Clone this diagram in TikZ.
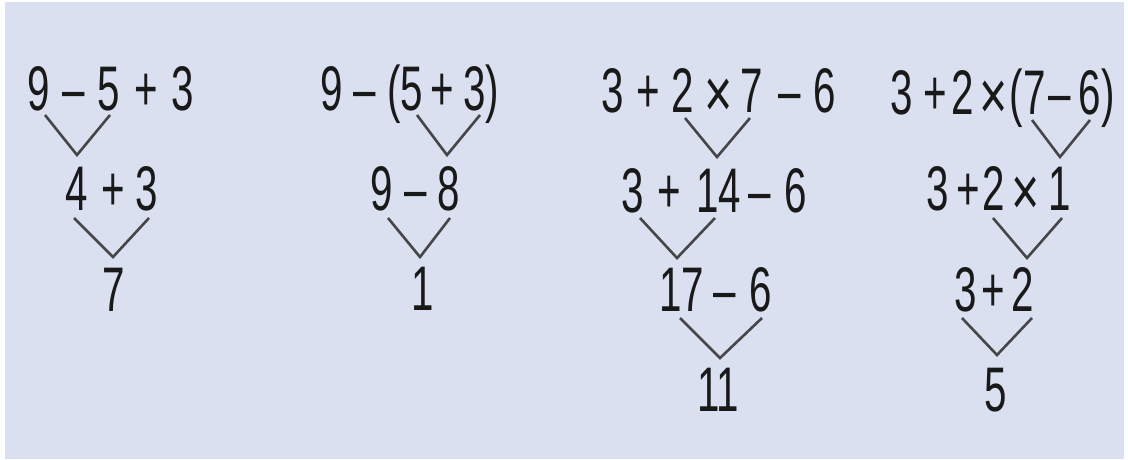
\documentclass[tikz,border=0pt]{standalone}
\usepackage{fontspec}
\usepackage{graphicx}
\setmainfont[FakeStretch=0.64]{Liberation Sans}
\definecolor{bgblue}{RGB}{218,224,240}
\definecolor{ink}{RGB}{25,25,25}
\definecolor{vline}{RGB}{70,70,72}
\newcommand{\tms}{\raisebox{-5pt}{\scalebox{1.2}[1.1]{×}}}
\begin{document}
\begin{tikzpicture}[x=1pt,y=-1pt,
  tok/.style={anchor=base,inner sep=0pt,text=ink,font=\fontsize{63}{70}\selectfont},
  vee/.style={draw=vline,line width=2.6pt,line join=miter}]
\fill[white] (0,0) rectangle (1128,459);
\fill[bgblue] (5,2) rectangle (1124,459);
\useasboundingbox (0,0) rectangle (1128,459);
% ---------- Panel 1 ----------
\node[tok] (a11) at (38.5,110) {9};
\node[tok] (a12) at (74,110) {–};
\node[tok] (a13) at (109,110) {5};
\node[tok] (a14) at (146.5,110) {+};
\node[tok] (a15) at (182.5,110) {3};
\node[tok] (a21) at (76.5,210) {4};
\node[tok] (a22) at (113,210) {+};
\node[tok] (a23) at (147,210) {3};
\node[tok] (a31) at (114,311) {7};
\coordinate (a1l) at (45,115); \coordinate (a1v) at (77,155); \coordinate (a1r) at (110,115);
\coordinate (a2l) at (74,218); \coordinate (a2v) at (113,257); \coordinate (a2r) at (149,218);
\draw[vee] (a1l) -- (a1v) -- (a1r);
\draw[vee] (a2l) -- (a2v) -- (a2r);
% ---------- Panel 2 ----------
\node[tok] (b11) at (332,110) {9};
\node[tok] (b12) at (365,110) {–};
\node[tok] (b13) at (405,110) {(5};
\node[tok] (b14) at (442.5,110) {+};
\node[tok] (b15) at (481,110) {3)};
\node[tok] (b21) at (382,210) {9};
\node[tok] (b22) at (416,210) {–};
\node[tok] (b23) at (449,210) {8};
\node[tok] (b31) at (422.5,310) {1};
\coordinate (b1l) at (417,115); \coordinate (b1v) at (447,155); \coordinate (b1r) at (480,115);
\coordinate (b2l) at (388,218); \coordinate (b2v) at (420,257); \coordinate (b2r) at (450,218);
\draw[vee] (b1l) -- (b1v) -- (b1r);
\draw[vee] (b2l) -- (b2v) -- (b2r);
% ---------- Panel 3 ----------
\node[tok] (c11) at (612.5,112) {3};
\node[tok] (c12) at (648.5,112) {+};
\node[tok] (c13) at (682.5,112) {2};
\node[tok] (c14) at (718.5,112) {\tms};
\node[tok] (c15) at (752,112) {7};
\node[tok] (c16) at (790,112) {–};
\node[tok] (c17) at (825,112) {6};
\node[tok] (c21) at (632.5,212) {3};
\node[tok] (c22) at (669.5,212) {+};
\node[tok] (c23) at (719,212) {14};
\node[tok] (c24) at (760,212) {–};
\node[tok] (c25) at (796,212) {6};
\node[tok] (c31) at (682,311) {17};
\node[tok] (c32) at (725,311) {–};
\node[tok] (c33) at (761,311) {6};
\node[tok] (c41) at (718,411) {11};
\coordinate (c1l) at (685,118); \coordinate (c1v) at (717,157); \coordinate (c1r) at (750,118);
\coordinate (c2l) at (640,218); \coordinate (c2v) at (677,258); \coordinate (c2r) at (715,218);
\coordinate (c3l) at (680,318); \coordinate (c3v) at (720,358); \coordinate (c3r) at (762,318);
\draw[vee] (c1l) -- (c1v) -- (c1r);
\draw[vee] (c2l) -- (c2v) -- (c2r);
\draw[vee] (c3l) -- (c3v) -- (c3r);
% ---------- Panel 4 ----------
\node[tok] (d11) at (902,114) {3};
\node[tok] (d12) at (935,114) {+};
\node[tok] (d13) at (962.5,114) {2};
\node[tok] (d14) at (994,114) {\tms};
\node[tok] (d15) at (1027.5,114) {(7};
\node[tok] (d16) at (1060,114) {–};
\node[tok] (d17) at (1096.5,114) {6)};
\node[tok] (d21) at (938,210) {3};
\node[tok] (d22) at (968.5,210) {+};
\node[tok] (d23) at (994,210) {2};
\node[tok] (d24) at (1026,210) {\tms};
\node[tok] (d25) at (1060,210) {1};
\node[tok] (d31) at (966,311) {3};
\node[tok] (d32) at (993.5,311) {+};
\node[tok] (d33) at (1023,311) {2};
\node[tok] (d41) at (996,411) {5};
\coordinate (d1l) at (1032,120); \coordinate (d1v) at (1060,157); \coordinate (d1r) at (1090,120);
\coordinate (d2l) at (993,218); \coordinate (d2v) at (1027,258); \coordinate (d2r) at (1062,218);
\coordinate (d3l) at (962,318); \coordinate (d3v) at (997,355); \coordinate (d3r) at (1032,318);
\draw[vee] (d1l) -- (d1v) -- (d1r);
\draw[vee] (d2l) -- (d2v) -- (d2r);
\draw[vee] (d3l) -- (d3v) -- (d3r);
\end{tikzpicture}
\end{document}
